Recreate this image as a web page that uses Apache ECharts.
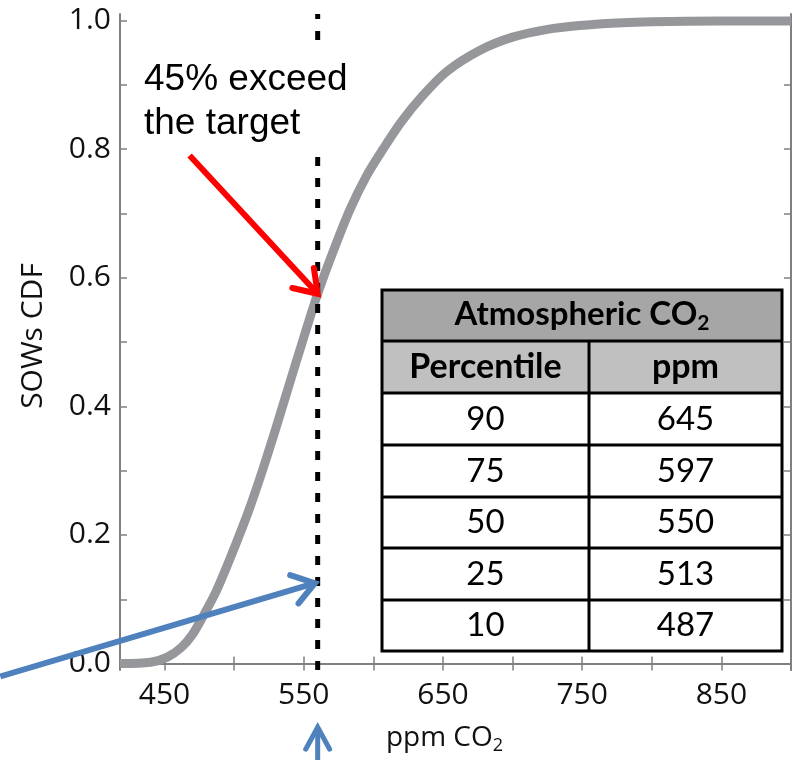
<!DOCTYPE html>
<html>
<head>
<meta charset="utf-8">
<script src="https://cdn.jsdelivr.net/npm/echarts@6/dist/echarts.min.js"></script>
<style>html,body{margin:0;padding:0;background:#fff;}#c{width:793px;height:760px;}</style>
</head>
<body>
<div id="c"></div>
<script>
// ---- data ----
const ppm = [418, 440, 452, 462, 470, 478, 487, 497, 510, 520, 530, 540, 550, 560, 571, 583, 595, 607, 620, 635, 653, 677, 700, 725, 748, 775, 800, 850, 900];
const cdf = [0.000, 0.002, 0.010, 0.025, 0.045, 0.075, 0.112, 0.163, 0.235, 0.298, 0.366, 0.437, 0.507, 0.575, 0.640, 0.705, 0.758, 0.800, 0.842, 0.882, 0.921, 0.954, 0.974, 0.986, 0.992, 0.996, 0.998, 0.999, 0.999];
const targetPpm = 560;
const xTickValues = [450, 500, 550, 600, 650, 700, 750, 800, 850, 900];
const xLabelValues = [450, 550, 650, 750, 850];
const yTickValues = [0, 0.1, 0.2, 0.3, 0.4, 0.5, 0.6, 0.7, 0.8, 0.9, 1.0];
const yLabelValues = [0, 0.2, 0.4, 0.6, 0.8, 1.0];
const tableTitle = 'Atmospheric CO';
const tableHeaders = ['Percentile', 'ppm'];
const percentiles = [90, 75, 50, 25, 10];
const percentilePpm = [645, 597, 550, 513, 487];
const annotationText = ['45% exceed', 'the target'];

const chart = echarts.init(document.getElementById('c'), null, {renderer: 'canvas'});
const axisColor = '#808080';
const labelFont = '"Open Sans"';
const curveData = ppm.map((p, i) => [p, cdf[i]]);

const option = {
  animation: false,
  backgroundColor: '#fff',
  grid: {left: 120, top: 14, width: 671, height: 660},
  xAxis: [{
    type: 'value', min: 418, max: 900, position: 'bottom',
    axisLine: {show: true, lineStyle: {color: axisColor, width: 2}},
    axisTick: {show: true, inside: true, length: 7, customValues: xTickValues, lineStyle: {color: axisColor, width: 1.5}},
    axisLabel: {customValues: xLabelValues, fontFamily: labelFont, fontSize: 30, color: '#111', margin: 10},
    splitLine: {show: false},
    name: '{a|ppm CO}{s|2}', nameLocation: 'middle', nameGap: 54,
    nameTextStyle: {padding: [0, 22, 0, 0], rich: {
      a: {fontFamily: labelFont, fontSize: 28, color: '#111', verticalAlign: 'top', lineHeight: 34},
      s: {fontFamily: labelFont, fontSize: 18, color: '#111', verticalAlign: 'top', lineHeight: 34, padding: [13, 0, 0, 0]}
    }}
  }, {
    type: 'value', min: 418, max: 900, position: 'top',
    axisLine: {show: true, lineStyle: {color: axisColor, width: 2}},
    axisTick: {show: true, inside: true, length: 7, customValues: xTickValues, lineStyle: {color: axisColor, width: 1.5}},
    axisLabel: {show: false}, splitLine: {show: false}
  }],
  yAxis: [{
    type: 'value', min: -0.01, max: 1.01, position: 'left',
    axisLine: {show: true, lineStyle: {color: axisColor, width: 2}},
    axisTick: {show: true, inside: true, length: 7, customValues: yTickValues, lineStyle: {color: axisColor, width: 1.5}},
    axisLabel: {customValues: yLabelValues, formatter: v => v.toFixed(1), fontFamily: labelFont, fontSize: 30, color: '#111', margin: 9},
    splitLine: {show: false},
    name: 'SOWs CDF', nameLocation: 'middle', nameGap: 72, nameRotate: 90,
    nameTextStyle: {fontFamily: labelFont, fontSize: 30, color: '#111', padding: [0, 0, 0, 12]}
  }, {
    type: 'value', min: -0.01, max: 1.01, position: 'right',
    axisLine: {show: true, lineStyle: {color: axisColor, width: 2}},
    axisTick: {show: true, inside: true, length: 7, customValues: yTickValues, lineStyle: {color: axisColor, width: 1.5}},
    axisLabel: {show: false}, splitLine: {show: false}
  }],
  series: [{
    type: 'line', data: curveData, smooth: 0.3, showSymbol: false, symbol: 'none',
    lineStyle: {color: '#96979b', width: 9}, z: 2
  }, {
    type: 'line', data: [[targetPpm, -0.01], [targetPpm, 1.01]], showSymbol: false, symbol: 'none',
    lineStyle: {color: '#000', width: 5, type: [9, 12]}, z: 3
  }]
};
chart.setOption(option);

// ---- annotations (positions derived from data coordinates) ----
const px = (x, y) => chart.convertToPixel({xAxisIndex: 0, yAxisIndex: 0}, [x, y]);

function arrow(tail, tip, color, width, armLen, spread) {
  const dx = tip[0] - tail[0], dy = tip[1] - tail[1];
  const ang = Math.atan2(dy, dx);
  const a1 = ang + Math.PI - spread, a2 = ang + Math.PI + spread;
  const arm1 = [tip[0] + armLen * Math.cos(a1), tip[1] + armLen * Math.sin(a1)];
  const arm2 = [tip[0] + armLen * Math.cos(a2), tip[1] + armLen * Math.sin(a2)];
  return [{
    type: 'polyline', z: 20, shape: {points: [tail, tip]},
    style: {stroke: color, lineWidth: width, fill: null, lineCap: 'butt'}
  }, {
    type: 'polyline', z: 20, shape: {points: [arm1, tip, arm2]},
    style: {stroke: color, lineWidth: width, fill: null, lineJoin: 'miter', lineCap: 'round'}
  }];
}

const tipY = cdf[ppm.indexOf(targetPpm)];
const redTail = px(468, 0.79), redTip = px(targetPpm, tipY);
const blueTail = px(332, -0.02), blueTip = px(targetPpm - 2, 0.125);
const upTip = px(targetPpm, -0.099), upTail = px(targetPpm, -0.15);

const graphics = [];
graphics.push(...arrow(redTail, redTip, '#ff0000', 6, 26, 0.6));
graphics.push(...arrow(blueTail, blueTip, '#4f81bd', 6, 26, 0.6));
graphics.push(...arrow(upTail, upTip, '#4f81bd', 5, 25, 0.5));

// annotation text with white backing
graphics.push({type: 'rect', z: 15, shape: {x: 140, y: 40, width: 218, height: 115}, style: {fill: '#fff'}});
graphics.push({
  type: 'text', z: 16, left: 144, top: 58,
  style: {text: annotationText.join('\n'), fontFamily: 'Liberation Sans, Arial', fontSize: 37, lineHeight: 44, fill: '#000'}
});

// table
const tx0 = 382, tx1 = 782, tcol = 589;
const rowY = [290, 341, 393, 445, 497, 548, 600, 651];
const lw = 3;
graphics.push({type: 'rect', z: 10, shape: {x: tx0, y: rowY[0], width: tx1 - tx0, height: rowY[1] - rowY[0]}, style: {fill: '#a6a6a6'}});
graphics.push({type: 'rect', z: 10, shape: {x: tx0, y: rowY[1], width: tx1 - tx0, height: rowY[2] - rowY[1]}, style: {fill: '#c0c0c0'}});
graphics.push({type: 'rect', z: 10, shape: {x: tx0, y: rowY[2], width: tx1 - tx0, height: rowY[7] - rowY[2]}, style: {fill: '#fff'}});
for (let i = 1; i < rowY.length - 1; i++) {
  graphics.push({type: 'line', z: 12, shape: {x1: tx0, y1: rowY[i], x2: tx1, y2: rowY[i]}, style: {stroke: '#000', lineWidth: lw}});
}
graphics.push({type: 'line', z: 12, shape: {x1: tcol, y1: rowY[1], x2: tcol, y2: rowY[7]}, style: {stroke: '#000', lineWidth: lw}});
graphics.push({type: 'rect', z: 12, shape: {x: tx0, y: rowY[0], width: tx1 - tx0, height: rowY[7] - rowY[0]}, style: {fill: null, stroke: '#000', lineWidth: lw}});

const c1 = (tx0 + tcol) / 2, c2 = (tcol + tx1) / 2;
graphics.push({
  type: 'text', z: 13, x: (tx0 + tx1) / 2, y: (rowY[0] + rowY[1]) / 2 + 1,
  style: {
    text: '{a|' + tableTitle + '}{s|2}', align: 'center', verticalAlign: 'middle',
    rich: {
      a: {fontFamily: 'Lato', fontWeight: 'bold', fontSize: 33, fill: '#000', verticalAlign: 'top', lineHeight: 38},
      s: {fontFamily: 'Lato', fontWeight: 'bold', fontSize: 21, fill: '#000', verticalAlign: 'top', lineHeight: 38, padding: [15, 0, 0, 0]}
    }
  }
});
tableHeaders.forEach((h, j) => {
  graphics.push({type: 'text', z: 13, x: j === 0 ? c1 : c2, y: (rowY[1] + rowY[2]) / 2,
    style: {text: h, align: 'center', verticalAlign: 'middle', fontFamily: 'Lato', fontWeight: 'bold', fontSize: 34, fill: '#000'}});
});
percentiles.forEach((p, i) => {
  const cy = (rowY[i + 2] + rowY[i + 3]) / 2;
  graphics.push({type: 'text', z: 13, x: c1, y: cy, style: {text: String(p), align: 'center', verticalAlign: 'middle', fontFamily: 'Lato', fontSize: 33, fill: '#000'}});
  graphics.push({type: 'text', z: 13, x: c2, y: cy, style: {text: String(percentilePpm[i]), align: 'center', verticalAlign: 'middle', fontFamily: 'Lato', fontSize: 33, fill: '#000'}});
});

chart.setOption({graphic: graphics});
</script>
</body>
</html>
